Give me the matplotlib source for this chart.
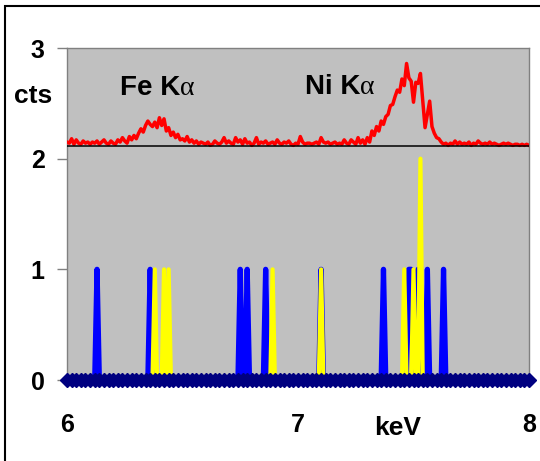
import numpy as np
import matplotlib
matplotlib.use('Agg')
import matplotlib.pyplot as plt
from matplotlib.patches import Rectangle

# data
energy = np.round(np.arange(6.0, 8.0001, 0.01), 2)   # keV, 0.01 step

# measured spectrum (offset above the single-photon lines)
red_cts = [
    2.15, 2.14, 2.18, 2.13, 2.17, 2.14, 2.13, 2.16, 2.14, 2.15,
    2.13, 2.15, 2.14, 2.16, 2.13, 2.15, 2.17, 2.14, 2.13, 2.16,
    2.14, 2.13, 2.17, 2.15, 2.19, 2.16, 2.14, 2.20, 2.17, 2.21,
    2.18, 2.23, 2.27, 2.24, 2.30, 2.34, 2.31, 2.29, 2.33, 2.28,
    2.37, 2.30, 2.36, 2.25, 2.28, 2.21, 2.24, 2.19, 2.22, 2.17,
    2.18, 2.16, 2.20, 2.15, 2.17, 2.14, 2.16, 2.13, 2.15, 2.14,
    2.13, 2.15, 2.12, 2.13, 2.16, 2.14, 2.13, 2.15, 2.19, 2.14,
    2.16, 2.14, 2.13, 2.19, 2.15, 2.17, 2.13, 2.18, 2.14, 2.15,
    2.12, 2.14, 2.19, 2.13, 2.15, 2.14, 2.16, 2.13, 2.14, 2.15,
    2.13, 2.17, 2.14, 2.13, 2.15, 2.14, 2.16, 2.13, 2.12, 2.14,
    2.13, 2.20, 2.15, 2.13, 2.14, 2.14, 2.13, 2.14, 2.15, 2.13,
    2.19, 2.15, 2.14, 2.15, 2.13, 2.14, 2.15, 2.13, 2.14, 2.13,
    2.17, 2.14, 2.13, 2.17, 2.15, 2.13, 2.19, 2.14, 2.17, 2.13,
    2.19, 2.15, 2.25, 2.21, 2.29, 2.25, 2.34, 2.31, 2.38, 2.40,
    2.48, 2.49, 2.56, 2.62, 2.60, 2.72, 2.66, 2.86, 2.73, 2.70,
    2.51, 2.69, 2.68, 2.77, 2.52, 2.28, 2.40, 2.52, 2.29, 2.23,
    2.19, 2.18, 2.15, 2.13, 2.14, 2.12, 2.14, 2.13, 2.16, 2.13,
    2.15, 2.13, 2.14, 2.13, 2.15, 2.12, 2.14, 2.13, 2.16, 2.14,
    2.13, 2.14, 2.13, 2.15, 2.13, 2.14, 2.13, 2.12, 2.13, 2.14,
    2.13, 2.14, 2.13, 2.12, 2.13, 2.13, 2.12, 2.13, 2.12, 2.13,
    2.12,
]
baseline_level = 2.11

# single events
blue_keV = [6.13, 6.36, 6.75, 6.78, 6.86, 7.10, 7.37, 7.48, 7.49, 7.52, 7.56, 7.63]
blue_cts = [1, 1, 1, 1, 1, 1, 1, 1, 1, 1, 1, 1]
yellow_keV = [6.38, 6.42, 6.44, 6.89, 7.10, 7.46, 7.50, 7.53]
yellow_cts = [1, 1, 1, 1, 1, 1, 1, 2]

zero_cts = np.zeros(len(energy))


def to_spectrum(keVs, cts):
    s = np.zeros(len(energy))
    for e, c in zip(keVs, cts):
        s[np.isclose(energy, e)] = c
    return s


blue = to_spectrum(blue_keV, blue_cts)
yellow = to_spectrum(yellow_keV, yellow_cts)

# figure
plt.rcParams['font.family'] = ['Liberation Sans', 'DejaVu Sans']
fig = plt.figure(figsize=(5.4, 4.61), dpi=100)
ax = fig.add_axes([67/540, 1 - 380/461, 462/540, 332/461])
ax.set_facecolor('#C0C0C0')

ax.plot(energy, blue, color='#0000FF', lw=3.8, solid_joinstyle='round', solid_capstyle='round')
ax.plot(energy, yellow, color='#FFFF00', lw=3.0, solid_joinstyle='round', solid_capstyle='round')
ax.plot(energy, zero_cts, color='#000080', lw=4, marker='D', ms=7.5, markevery=2,
        mec='#000080', clip_on=False, zorder=4)
ax.plot(energy, red_cts, color='#FF0000', lw=2.5, zorder=5)
ax.axhline(baseline_level, color='black', lw=1.1, zorder=6)

ax.set_xlim(6, 8)
ax.set_ylim(0, 3)
ax.set_xticks([6, 7, 8])
ax.set_yticks([0, 1, 2, 3])

for sp in ax.spines.values():
    sp.set_color('#808080')
    sp.set_linewidth(1)

ax.tick_params(axis='y', direction='out', length=7, width=1, color='#808080', pad=9,
               labelsize=18)
ax.tick_params(axis='x', direction='out', length=3, width=1, color='#808080', pad=21,
               labelsize=18)
for lab in ax.get_xticklabels() + ax.get_yticklabels():
    lab.set_fontweight('bold')

# peak labels
fe = ax.text(6.229, 2.575, 'Fe K', fontsize=20, fontweight='bold', va='baseline')
ax.annotate('α', xy=(1, 0), xycoords=fe, fontsize=20, family='Liberation Serif',
            va='bottom', ha='left')
ni = ax.text(7.03, 2.58, 'Ni K', fontsize=20, fontweight='bold', va='baseline')
ax.annotate('α', xy=(1, 0), xycoords=ni, fontsize=20, family='Liberation Serif',
            va='bottom', ha='left')

fig.text(33/540, 1 - 103/461, 'cts', fontsize=19, fontweight='bold', ha='center', va='baseline')
fig.text(398/540, 1 - 435/461, 'keV', fontsize=19, fontweight='bold', ha='center', va='baseline')

# outer frame
fig.add_artist(Rectangle((5/540, -0.1), 1.2, 1.1 - 6/461, transform=fig.transFigure,
                         fill=False, ec='black', lw=1.5))

fig.savefig('out.png', dpi=100)
